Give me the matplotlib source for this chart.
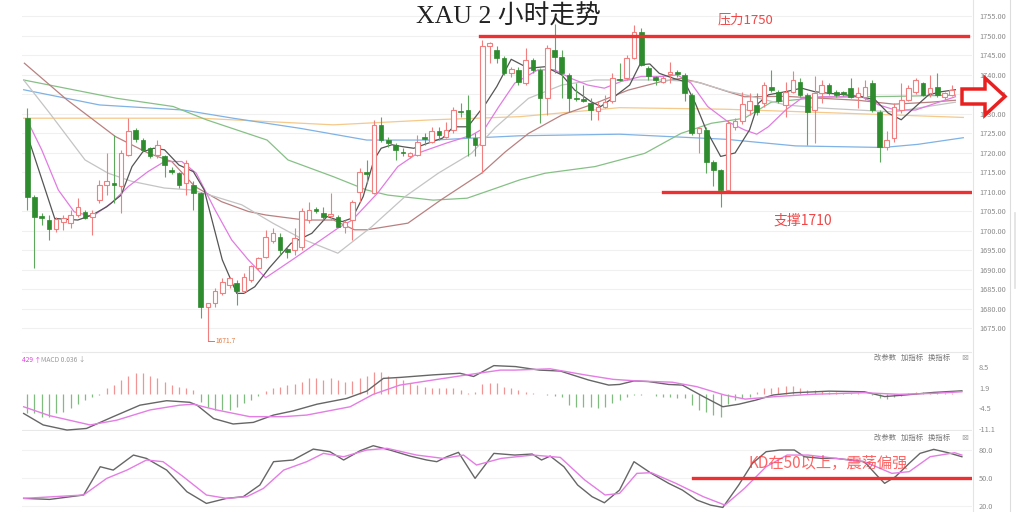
import matplotlib
matplotlib.use("Agg")
import matplotlib.pyplot as plt
from matplotlib.patches import Rectangle, Polygon
from matplotlib.lines import Line2D

plt.rcParams['font.family'] = ['Noto Sans CJK SC', 'DejaVu Sans']

# 2-hour candles
opens = [1728.9, 1708.8, 1703.8, 1702.7, 1700.4, 1702.4, 1702.0, 1704.1, 1704.9, 1703.7,
         1707.9, 1711.8, 1712.2, 1711.4, 1719.5, 1725.9, 1723.3, 1721.2, 1719.5, 1719.1,
         1715.6, 1714.8, 1712.2, 1711.8, 1709.7, 1680.6, 1681.5, 1684.0, 1686.2, 1686.6,
         1684.5, 1687.5, 1690.5, 1693.4, 1697.5, 1698.5, 1695.5, 1695.1, 1696.0, 1702.8,
         1705.6, 1704.5, 1703.9, 1703.7, 1701.1, 1702.8, 1710.1, 1715.2, 1709.7, 1727.2,
         1723.3, 1722.1, 1720.0, 1719.1, 1719.5, 1724.0, 1722.9, 1725.5, 1724.2, 1725.9,
         1730.8, 1731.0, 1723.8, 1722.1, 1747.3, 1746.4, 1744.3, 1740.4, 1741.3, 1737.9,
         1743.8, 1741.3, 1734.0, 1746.4, 1744.7, 1740.0, 1734.2, 1733.8, 1732.7, 1730.8,
         1731.8, 1733.2, 1739.0, 1739.1, 1744.3, 1751.1, 1741.7, 1739.4, 1738.3, 1740.2,
         1740.7, 1740.0, 1734.9, 1725.0, 1725.9, 1717.8, 1715.6, 1710.5, 1726.7, 1728.3,
         1731.0, 1732.3, 1732.7, 1737.0, 1735.7, 1732.3, 1735.7, 1738.3, 1734.9, 1731.0,
         1735.3, 1737.4, 1735.7, 1735.5, 1736.6, 1734.4, 1734.4, 1737.9, 1730.6, 1721.6,
         1723.8, 1731.0, 1733.6, 1735.7, 1737.9, 1735.3, 1737.0, 1734.4, 1734.9]
highs = [1731.5, 1709.2, 1704.5, 1704.1, 1703.7, 1704.1, 1705.4, 1708.4, 1705.4, 1705.4,
         1713.1, 1719.9, 1724.6, 1720.8, 1728.9, 1726.3, 1723.8, 1721.6, 1723.3, 1719.5,
         1716.5, 1715.2, 1718.2, 1712.7, 1710.1, 1681.5, 1685.3, 1688.0, 1688.3, 1687.4,
         1689.2, 1691.3, 1693.4, 1700.2, 1700.7, 1699.4, 1695.8, 1700.7, 1705.8, 1707.5,
         1706.2, 1706.2, 1709.7, 1704.1, 1702.8, 1708.0, 1716.1, 1718.2, 1728.5, 1729.3,
         1724.2, 1722.5, 1721.2, 1720.3, 1724.6, 1725.0, 1726.7, 1726.7, 1728.0, 1731.9,
         1732.7, 1734.9, 1725.0, 1749.0, 1748.5, 1747.3, 1744.8, 1742.0, 1742.0, 1746.8,
         1744.3, 1741.7, 1747.7, 1753.0, 1746.4, 1740.4, 1737.9, 1737.5, 1734.0, 1733.2,
         1734.9, 1740.4, 1743.0, 1745.1, 1752.8, 1752.0, 1742.2, 1739.8, 1740.0, 1743.4,
         1741.3, 1740.4, 1735.3, 1726.7, 1726.7, 1718.2, 1716.0, 1728.5, 1729.0, 1735.5,
         1735.3, 1735.3, 1738.3, 1741.3, 1736.2, 1738.3, 1740.9, 1739.1, 1735.3, 1739.6,
         1738.7, 1737.9, 1736.2, 1736.0, 1739.1, 1737.0, 1738.7, 1738.7, 1731.0, 1725.5,
         1732.7, 1737.9, 1737.4, 1739.1, 1738.3, 1740.0, 1740.4, 1735.7, 1737.4]
lows = [1705.4, 1690.4, 1701.5, 1697.7, 1699.8, 1700.2, 1700.7, 1703.7, 1703.0, 1699.0,
        1707.1, 1709.2, 1707.1, 1704.5, 1719.1, 1722.9, 1720.5, 1718.8, 1718.6, 1713.9,
        1714.5, 1711.0, 1709.2, 1705.4, 1677.6, 1671.7, 1680.6, 1683.5, 1685.5, 1681.0,
        1684.0, 1687.0, 1690.0, 1693.0, 1697.0, 1693.8, 1693.0, 1693.8, 1695.1, 1702.0,
        1704.5, 1702.8, 1702.8, 1701.0, 1699.4, 1697.7, 1707.5, 1712.2, 1709.5, 1722.9,
        1721.6, 1718.2, 1719.1, 1718.8, 1719.1, 1722.1, 1722.5, 1723.3, 1723.8, 1725.0,
        1729.3, 1719.1, 1719.1, 1714.8, 1743.0, 1743.0, 1740.0, 1739.5, 1737.5, 1737.4,
        1740.4, 1727.6, 1729.7, 1740.4, 1734.0, 1730.6, 1733.2, 1733.0, 1728.5, 1728.5,
        1731.5, 1732.8, 1738.4, 1738.7, 1744.0, 1742.2, 1738.7, 1737.4, 1737.8, 1737.9,
        1739.5, 1733.2, 1724.6, 1719.9, 1714.8, 1711.4, 1706.2, 1710.3, 1726.0, 1727.5,
        1729.7, 1729.7, 1731.9, 1735.7, 1732.7, 1729.3, 1735.3, 1734.4, 1722.0, 1722.5,
        1732.7, 1734.9, 1734.4, 1734.5, 1734.0, 1731.4, 1733.6, 1730.6, 1717.8, 1720.8,
        1722.9, 1730.2, 1733.2, 1735.0, 1734.5, 1734.4, 1734.4, 1733.6, 1734.5]
closes = [1708.8, 1703.7, 1703.3, 1700.4, 1703.0, 1703.2, 1704.1, 1706.1, 1703.2, 1704.5,
          1711.8, 1712.7, 1711.8, 1719.9, 1725.5, 1723.5, 1720.8, 1719.1, 1722.0, 1716.9,
          1715.0, 1711.8, 1717.4, 1709.7, 1680.6, 1681.5, 1684.5, 1687.0, 1688.0, 1684.5,
          1688.3, 1690.9, 1693.0, 1698.5, 1699.5, 1695.1, 1694.5, 1698.1, 1705.0, 1705.4,
          1705.2, 1703.7, 1704.3, 1701.1, 1702.4, 1707.5, 1715.2, 1714.6, 1727.2, 1723.3,
          1722.5, 1720.8, 1719.9, 1720.0, 1722.9, 1723.6, 1725.5, 1724.6, 1725.9, 1731.0,
          1730.4, 1724.2, 1722.1, 1747.3, 1748.1, 1744.3, 1740.4, 1741.4, 1738.3, 1743.8,
          1741.3, 1734.0, 1746.8, 1744.7, 1740.4, 1734.0, 1733.8, 1733.4, 1731.0, 1731.7,
          1733.0, 1739.1, 1738.6, 1744.3, 1751.1, 1742.6, 1739.6, 1738.7, 1739.1, 1740.8,
          1740.2, 1735.3, 1725.0, 1726.3, 1717.8, 1715.6, 1710.5, 1727.6, 1728.3, 1732.5,
          1733.2, 1730.6, 1737.4, 1736.2, 1733.2, 1735.7, 1738.7, 1734.9, 1730.6, 1735.3,
          1737.4, 1735.3, 1734.9, 1735.0, 1734.4, 1735.3, 1737.0, 1731.0, 1721.6, 1723.3,
          1731.9, 1733.6, 1736.6, 1738.7, 1734.9, 1736.6, 1734.9, 1735.3, 1736.2]

# moving averages, read as (candle index, price) points
ma5_x = [0, 3.8, 7, 9, 11, 13, 14.5, 16, 17.5, 19, 21, 23, 24.5, 27, 29, 30, 31.5, 33.5, 36.5,
         39.4, 41.5, 43.6, 45, 46.5, 48, 49, 50.5, 52, 53.5, 55.5, 57.5, 59, 61, 63.5, 65, 67,
         69.4, 71.7, 74, 75.8, 78, 79.4, 81, 83.4, 84.8, 86.2, 87.5, 89.5, 91, 92.5, 94, 96, 98,
         100, 101.2, 102.6, 105, 107.2, 109, 111, 113.2, 115.5, 117.4, 119.2, 121, 123, 124.8,
         126.6, 128.5]
ma5_y = [1724.6, 1703.2, 1702.8, 1704.1, 1706.2, 1709.2, 1716.5, 1720.3, 1721.2, 1720.8,
         1716.9, 1715.2, 1710.5, 1692.6, 1684.0, 1684.0, 1685.7, 1690.5, 1696.8, 1699.4,
         1703.7, 1702.4, 1703.3, 1708.8, 1718.2, 1721.2, 1722.1, 1721.6, 1721.2, 1722.5,
         1723.8, 1726.7, 1726.7, 1732.7, 1737.0, 1744.0, 1741.7, 1742.1, 1740.0, 1736.1,
         1733.2, 1731.9, 1734.0, 1737.4, 1742.6, 1742.8, 1740.4, 1739.1, 1738.3, 1732.7,
         1725.9, 1719.1, 1720.0, 1725.9, 1732.7, 1734.9, 1735.7, 1736.6, 1735.7, 1735.3,
         1734.9, 1734.4, 1733.6, 1730.2, 1728.5, 1731.9, 1734.9, 1735.7, 1736.2]
ma10_x = [0.3, 2, 4.3, 6.5, 9, 11.6, 14, 16.7, 19, 21.4, 23.4, 26, 28.3, 30.6, 33, 37, 43, 45,
          48.5, 51.3, 54, 58, 61.6, 63.5, 65.3, 67.5, 70.7, 73, 75.3, 77.6, 79.9, 82.2, 85,
          87.8, 90, 91.9, 94.2, 97, 99.3, 101, 102.6, 105, 107.2, 110, 113.2, 115.5, 117.9,
          120.2, 123, 125.7, 128.5]
ma10_y = [1727.2, 1720.8, 1710.5, 1704.9, 1703.7, 1707.1, 1711.4, 1715.2, 1717.8, 1717.8,
          1714.8, 1705.4, 1697.7, 1692.6, 1688.0, 1693.0, 1700.7, 1702.8, 1709.7, 1716.5,
          1719.9, 1722.5, 1724.6, 1726.7, 1731.9, 1737.9, 1741.3, 1741.3, 1739.1, 1737.4,
          1736.6, 1738.3, 1739.6, 1739.6, 1740.0, 1737.9, 1731.9, 1728.0, 1725.9, 1724.8,
          1726.7, 1731.0, 1734.0, 1734.4, 1734.4, 1734.4, 1732.3, 1731.0, 1731.0, 1732.7,
          1734.4]
ma20_x = [-0.5, 3.1, 8, 11.2, 14.5, 19, 22.8, 26, 29.7, 34, 38, 43, 47.7, 52.3, 56.9, 61.5,
          64.8, 69.4, 74, 78.6, 83.2, 87.8, 92.5, 97.2, 99.4, 105, 110, 115, 120, 125, 128.5]
ma20_y = [1738.7, 1730.2, 1718.2, 1714.8, 1712.7, 1711.0, 1710.5, 1708.8, 1706.7, 1702.0,
          1698.0, 1694.3, 1701.1, 1708.8, 1714.8, 1719.9, 1726.5, 1734.0, 1737.4, 1738.7,
          1738.7, 1738.7, 1738.3, 1735.7, 1734.9, 1732.3, 1731.5, 1731.0, 1730.5, 1732.0,
          1733.0]
ma30_x = [-0.4, 5.5, 12.2, 16.8, 20, 23.2, 26.9, 30.6, 33, 38.4, 42.4, 45.3, 47, 52.7, 57.3,
          62.9, 66.2, 69.4, 74, 78.6, 83.2, 87.8, 90.5, 93.3, 97, 99.3, 105, 110, 115, 120,
          125, 128.5]
ma30_y = [1743.0, 1733.6, 1724.2, 1719.9, 1717.8, 1711.4, 1707.5, 1705.0, 1704.1, 1702.8,
          1702.8, 1700.3, 1700.3, 1702.0, 1708.0, 1714.8, 1720.3, 1725.0, 1729.7, 1732.7,
          1736.1, 1738.3, 1739.1, 1737.9, 1735.7, 1734.4, 1734.5, 1734.0, 1733.5, 1732.5,
          1733.0, 1733.5]
ma60_x = [-0.5, 12.4, 20.2, 24.8, 33.2, 36.1, 42.4, 47, 49.9, 56.2, 60.9, 64.8, 68.2, 71.7,
          78.6, 85.5, 90.5, 94.7, 99.3, 103, 110, 120, 128.5]
ma60_y = [1738.7, 1734.0, 1731.9, 1728.5, 1723.3, 1718.2, 1713.9, 1710.5, 1709.2, 1707.9,
          1708.4, 1710.9, 1713.1, 1714.8, 1716.5, 1719.9, 1725.0, 1727.6, 1728.9, 1733.0,
          1734.3, 1734.5, 1734.8]
ma120_x = [-0.5, 10, 21.6, 28.5, 37.8, 47, 56.2, 62.6, 68.2, 82, 96.7, 106.4, 118.5, 123.3, 129.6]
ma120_y = [1736.2, 1732.3, 1731.0, 1728.9, 1726.3, 1723.3, 1723.3, 1723.9, 1724.4, 1724.8,
           1723.5, 1721.8, 1721.4, 1722.2, 1723.9]
ma250_x = [-0.5, 23.9, 42.4, 56.2, 68.2, 82, 96.7, 111.2, 129.6]
ma250_y = [1728.9, 1728.9, 1727.2, 1728.5, 1729.3, 1731.6, 1731.2, 1730.3, 1729.1]

# MACD panel
macd_hist = [-6.1, -6.1, -7.1, -7.1, -6.1, -5.6, -4.5, -3.0, -1.9, -0.8, -0.3,
             1.8, 2.8, 4.4, 5.5, 6.5, 6.5, 5.5, 4.9, 3.9, 2.8, 2.3, 1.8, 1.3,
             -2.4, -4.0, -5.0, -5.0, -5.0, -4.0, -2.9, -1.9, -0.5,
             0.9, 1.8, 2.3, 2.8, 3.1, 3.9, 4.9, 4.9, 4.4, 4.9, 4.4, 3.9, 4.1, 4.9, 5.5, 7.0,
             7.0, 5.5, 4.9, 4.4, 3.4, 2.8, 2.3, 2.0, 2.0, 1.8, 1.8, 1.3, 0.2, 0.5,
             3.0, 3.6, 3.4, 2.3, 1.8, 1.3, 0.7, 0.4, 0.1, -0.3,
             -0.5, -0.8, -3.5, -4.0, -4.0, -4.0, -4.5, -4.0, -2.9, -1.9,
             -0.8, -0.3, -0.3, -0.1, -0.5, -0.8, -0.8, -1.2, -1.4, -3.5,
             -5.0, -5.5, -6.6, -7.1, -3.0, -1.9, -1.4, -0.8, 0.7, 1.8,
             2.0, 2.3, 2.5, 2.6, 1.8, 1.3, 1.3, 0.9, 0.7, 0.5,
             0.4, 0.3, 0.2, 0.1, -0.4, -1.2, -1.5, -1.0, -0.5, 0.2,
             0.5, 0.6, 0.6, 0.5, 0.4, 0.3]
dif_x = [-0.5, 2.2, 5.5, 8.2, 11.9, 15.6, 19.3, 22.5, 23.5, 25.8, 28.5, 31.3, 34.1, 36.8,
         40.1, 44.2, 47, 49.3, 51.6, 56.2, 59.9, 61.8, 64.6, 67.6, 70.9, 73.8, 77.7, 80.5,
         82.0, 84, 86, 88.8, 90.7, 93.6, 96.3, 98.5, 100.9, 103.3, 106.2, 111, 115.9, 118.7,
         121.6, 125.5, 129.4]
dif_y = [-6.1, -9.7, -11.3, -10.8, -7.1, -3.5, -2.1, -2.6, -3.5, -7.7, -9.4, -8.9, -6.6,
         -5.3, -3.2, -1.4, 0.9, 4.9, 5.2, 6.0, 6.5, 5.5, 8.9, 8.6, 7.5, 7.2, 4.4, 2.8, 3.0,
         4.1, 3.9, 3.0, 2.8, -0.8, -4.0, -3.2, -1.9, -0.3, 0.4, 0.9, 0.7, -0.8, -0.3, 0.5, 1.0]
dea_x = [-0.5, 3.1, 8.7, 12.4, 17, 21.1, 23, 26.2, 30.8, 35.5, 38.7, 44.7, 47.9, 51.6, 56.2,
         60.9, 65.5, 67.5, 72.4, 77.2, 81.1, 84.4, 89.3, 92.7, 96.5, 99.4, 103.7, 108.6,
         115.9, 120.7, 125.5, 129.4]
dea_y = [-4.0, -6.8, -9.7, -8.2, -5.0, -3.5, -3.2, -5.0, -7.1, -7.1, -6.6, -4.0, -0.1, 2.8,
         4.4, 6.0, 7.5, 7.5, 7.9, 6.0, 4.6, 4.1, 3.7, 2.3, -0.3, -1.6, -0.8, -0.1, 0.4, -0.1,
         0.2, 0.7]

# KD panel
k_x = [-0.5, 3.1, 7.8, 10.1, 11.9, 14.7, 16.5, 19.3, 22.1, 24.8, 27.6, 29.9, 32.2, 34.1,
       36.8, 39.6, 41.9, 43.8, 46.1, 47.9, 50.2, 53, 55.3, 56.7, 58.1, 59.7, 62, 64.6, 67.5,
       69.9, 71.2, 72.4, 74.3, 76.2, 78.2, 79.9, 82, 84, 86.4, 88.8, 90.7, 92.7, 94.6, 96.3,
       98.5, 100.4, 102.3, 104.2, 106.2, 107.6, 110, 112, 113.9, 115.9, 117.8, 118.7, 120.2,
       122.1, 123.6, 125.5, 127.5, 129.4]
k_y = [28.2, 27.1, 31.8, 62.1, 58.5, 74.6, 71.0, 58.5, 35.3, 22.8, 28.2, 30.0, 42.5, 67.5,
       69.3, 81.0, 78.2, 69.3, 79.3, 84.6, 80.0, 73.5, 69.3, 67.5, 72.8, 77.5, 49.6, 76.4,
       74.6, 75.7, 69.3, 73.5, 62.1, 42.5, 30.0, 23.5, 37.1, 67.5, 55.0, 44.3, 37.1, 26.4,
       21.0, 18.5, 42.5, 65.7, 78.2, 80.0, 80.0, 72.8, 71.0, 71.0, 69.3, 67.5, 51.4, 44.3,
       51.4, 65.7, 76.4, 80.7, 77.1, 72.8]
d_x = [-0.5, 7.8, 11, 13.8, 16.5, 18.8, 21.6, 24.8, 27.6, 30.4, 32.7, 35.5, 38.7, 41, 43.8,
       47, 49.8, 53.9, 57.6, 60.4, 62.2, 65.6, 70, 73.8, 77.2, 80, 82, 84.4, 86.4, 89.8, 93.6,
       96.6, 99.3, 102.3, 105.2, 108.1, 112, 115.9, 119.7, 122.1, 125, 128.4, 129.4]
d_y = [28.2, 31.8, 49.6, 58.5, 69.3, 67.5, 51.4, 31.8, 28.2, 30.0, 38.9, 58.5, 67.5, 76.4,
       72.8, 80.0, 81.8, 74.6, 71.0, 74.6, 63.9, 71.0, 74.6, 72.1, 47.8, 31.8, 33.5, 55.0,
       55.7, 44.3, 30.0, 21.0, 38.9, 62.1, 74.6, 74.6, 71.0, 67.5, 55.0, 56.8, 72.8, 77.1,
       74.6]

price_ticks = [1755, 1750, 1745, 1740, 1735, 1730, 1725, 1720, 1715, 1710,
               1705, 1700, 1695, 1690, 1685, 1680, 1675]
macd_ticks = [8.5, 1.9, -4.5, -11.1]
kd_ticks = [80.0, 50.0, 20.0]

RED = '#f27f7f'
GREEN = '#2e8b2e'
LINE_RED = '#ee3030'
W, H = 1024, 512


def box(x0, y0, x1, y1):
    return [x0 / W, 1 - y1 / H, (x1 - x0) / W, (y1 - y0) / H]


def style_panel(ax, ticks, labels):
    ax.yaxis.tick_right()
    ax.set_yticks(ticks)
    ax.set_yticklabels(labels)
    ax.tick_params(axis='y', length=0, pad=5, labelsize=5.3, labelcolor='#8a8a8a')
    ax.set_xticks([])
    for s in ax.spines.values():
        s.set_visible(False)


fig = plt.figure(figsize=(10.24, 5.12), dpi=100)

# ---- main price panel ----
ax = fig.add_axes(box(22, 0, 972, 348))
ax.set_xlim(-0.73, 130.8)
ax.set_ylim(1670.0, 1759.2)
style_panel(ax, price_ticks, [f'{v:.2f}' for v in price_ticks])
for v in price_ticks:
    ax.axhline(v, color='#f0f0f0', lw=0.8, zorder=0)

for xs, ys, col in [(ma250_x, ma250_y, '#f5c98a'), (ma120_x, ma120_y, '#7fb2e5'),
                    (ma60_x, ma60_y, '#86c086'), (ma30_x, ma30_y, '#b98080'),
                    (ma20_x, ma20_y, '#c4c4c4'), (ma10_x, ma10_y, '#e27be2'),
                    (ma5_x, ma5_y, '#555555')]:
    ax.plot(xs, ys, color=col, lw=0.9, zorder=2)

bw = 0.64
for i, (o, h, l, c) in enumerate(zip(opens, highs, lows, closes)):
    lo, hi = min(o, c), max(o, c)
    if hi - lo < 0.3:
        hi = lo + 0.3
    if c >= o:
        ax.vlines(i, l, lo, color=RED, lw=0.8, zorder=3)
        ax.vlines(i, hi, h, color=RED, lw=0.8, zorder=3)
        ax.add_patch(Rectangle((i - bw / 2, lo), bw, hi - lo, facecolor='white',
                               edgecolor=RED, lw=0.8, zorder=4))
    else:
        ax.vlines(i, l, h, color='#5da85d', lw=0.8, zorder=3)
        ax.add_patch(Rectangle((i - bw / 2, lo), bw, hi - lo, facecolor=GREEN,
                               edgecolor=GREEN, lw=0.5, zorder=4))

ax.plot([62.7, 130.3], [1750, 1750], color=LINE_RED, lw=2.4, zorder=5)
ax.plot([88.0, 130.8], [1710, 1710], color=LINE_RED, lw=2.4, zorder=5)
ax.plot([25, 25.9], [lows[25], lows[25]], color='#e07a40', lw=0.7, zorder=5)
ax.text(26.1, lows[25], '1671.7', color='#e07a40', fontsize=4.8, va='center', zorder=5)

# ---- MACD panel ----
ax2 = fig.add_axes(box(22, 350, 972, 431))
ax2.set_xlim(-0.73, 130.8)
ax2.set_ylim(-11.6, 13.8)
style_panel(ax2, macd_ticks, [str(v) for v in macd_ticks])
ax2.axhline(13.2, color='#e8e8e8', lw=0.8)
ax2.axhline(-11.3, color='#e8e8e8', lw=0.8)
for i, v in enumerate(macd_hist):
    ax2.vlines(i, 0, v, color='#f29494' if v >= 0 else '#80bc80', lw=0.9)
ax2.plot(dif_x, dif_y, color='#666666', lw=1.0)
ax2.plot(dea_x, dea_y, color='#e47de4', lw=1.0)

# ---- KD panel ----
ax3 = fig.add_axes(box(22, 432, 972, 512))
ax3.set_xlim(-0.73, 130.8)
ax3.set_ylim(13.6, 99.3)
style_panel(ax3, kd_ticks, [f'{v:.1f}' for v in kd_ticks])
for v in kd_ticks:
    ax3.axhline(v, color='#f2f2f2', lw=0.8, zorder=0)
ax3.plot(k_x, k_y, color='#666666', lw=1.0)
ax3.plot(d_x, d_y, color='#e47de4', lw=1.0)
ax3.plot([92.2, 130.5], [50, 50], color=LINE_RED, lw=2.4)


def fx(px):
    return px / W


def fy(py):
    return 1 - py / H


# texts
fig.text(fx(508), fy(16), 'XAU 2 小时走势', ha='center', va='center', fontsize=18.5,
         color='#222222', family=['Liberation Serif', 'Noto Sans CJK SC'])
fig.text(fx(745), fy(20), '压力1750', ha='center', va='center', fontsize=9.5, color='#f04848')
fig.text(fx(803), fy(221), '支撑1710', ha='center', va='center', fontsize=10, color='#f04848')
fig.text(fx(828), fy(463), 'KD在50以上，震荡偏强', ha='center', va='center', fontsize=11,
         color='#ff3030', alpha=0.75)
fig.text(fx(22), fy(360), '429 ↑', ha='left', va='center', fontsize=4.8, color='#e040e0')
fig.text(fx(41), fy(360), 'MACD 0.036 ↓', ha='left', va='center', fontsize=4.8, color='#999999')
for yy in (358, 438):
    fig.text(fx(950), fy(yy), '改参数   加指标   换指标', ha='right', va='center',
             fontsize=5.3, color='#777777')
    fig.text(fx(965), fy(yy), '⊠', ha='center', va='center', fontsize=6, color='#aaaaaa',
             family=['DejaVu Sans'])

# right-side frame lines and arrow
fig.add_artist(Line2D([fx(973), fx(973)], [0, 1], color='#e4e4e4', lw=0.8))
fig.add_artist(Line2D([fx(1010), fx(1010)], [0, 1], color='#dddddd', lw=0.8))
fig.add_artist(Line2D([fx(1015), fx(1015)], [fy(288), fy(213)], color='#e0e0e0', lw=1.2))
arrow_px = [(962, 89), (985, 89), (985, 78), (1005, 96.5), (985, 115), (985, 104), (962, 104)]
fig.add_artist(Polygon([(fx(x), fy(y)) for x, y in arrow_px], closed=True,
                       transform=fig.transFigure, facecolor='white',
                       edgecolor='#e82020', lw=2.5, zorder=10))

fig.savefig('out.png', dpi=100)
